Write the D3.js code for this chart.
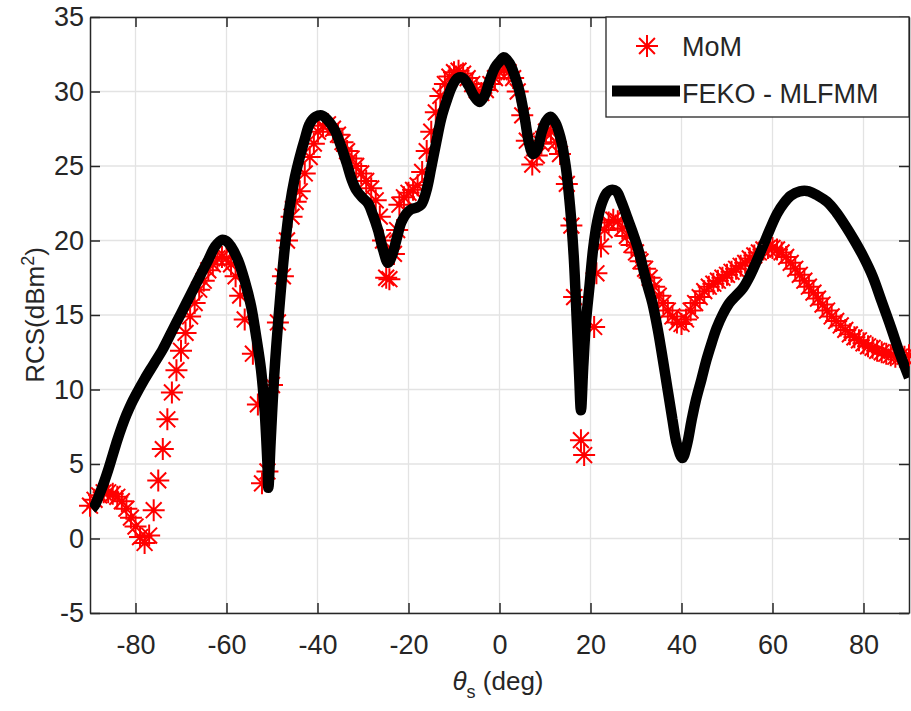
<!DOCTYPE html>
<html>
<head>
<meta charset="utf-8">
<script src="https://cdn.jsdelivr.net/npm/d3@7"></script>
<style>
  body { margin: 0; background: #fff; }
  text { font-family: "Liberation Sans", Arial, sans-serif; fill: #262626; }
</style>
</head>
<body>
<div id="chart"></div>
<script>
// MoM samples (red asterisks)
var momTheta = [-90,-89,-88,-87,-86,-85,-84,-83,-82,-81,-80,-79,-78,-77,-76,-75,-74,-73,-72,-71,
  -70,-69,-68,-67,-66,-65,-64,-63,-62,-61,-60,-59,-58,-57,-56,-54.2,-53.1,-52.2,-51,-50,
  -48.7,-47.6,-46.7,-45.7,-44.8,-43.9,-42.8,-41.7,-40.8,-39.9,-38.8,-37.7,-36.6,-35.5,-34.5,-33.5,-32.5,-31.5,-30.4,-29.3,
  -28.2,-27.2,-26.3,-25.6,-24.9,-24.2,-23.2,-22.5,-22,-21,-20,-19,-18,-17,-16,-15,-14,-13,-12,-11,
  -10,-9,-8,-7,-6,-5,-4,-3,-2,-1,0,1,2,3,4,5,6,7.2,8.2,9.2,
  10.2,11.3,12.4,13.3,14.8,15.8,16.4,17.9,18.6,20.8,21.3,22.3,23.1,24,25,26,27,28,29,30,
  31,32,33,34,35,36,37,38,39,40,41,42,43,44,45,46,47,48,49,50,
  51,52,53,54,55,56,57,58,59,60,61,62,63,64,65,66,67,68,69,70,
  71,72,73,74,75,76,77,78,79,80,81,82,83,84,85,86,87,88,89,90];
var momRcs = [2.2,2.6,2.9,3.1,3.1,3.0,2.8,2.5,2.0,1.4,0.8,0.1,-0.3,0.2,1.9,3.9,6.0,8.0,9.8,11.3,
  12.6,13.8,14.9,15.8,16.7,17.3,18.0,18.4,18.8,18.9,18.8,18.4,17.6,16.3,14.7,12.4,9.0,3.7,4.5,10.3,
  14.5,17.6,20.0,21.6,22.6,23.3,24.5,25.6,26.5,27.3,27.7,27.8,27.5,27.1,26.6,26.0,25.5,25.0,24.5,24.0,
  23.5,22.7,21.6,20.0,17.5,17.4,19.1,20.7,22.4,22.9,23.2,23.4,23.7,24.6,26.0,27.3,28.6,29.7,30.5,31.0,
  31.3,31.4,31.2,30.9,30.5,30.1,29.9,30.1,30.5,30.9,31.3,31.5,31.3,30.9,30.0,28.4,26.7,25.1,25.7,26.5,
  27.3,27.3,26.6,25.8,23.8,21.0,16.2,6.6,5.6,14.2,17.8,19.6,20.7,21.2,21.4,21.3,20.8,20.3,19.7,19.2,
  18.6,18.1,17.5,16.9,16.3,15.8,15.3,14.9,14.5,14.4,14.7,15.3,15.8,16.2,16.6,16.9,17.1,17.3,17.5,17.7,
  17.9,18.1,18.3,18.5,18.8,19.0,19.2,19.4,19.5,19.5,19.4,19.2,18.9,18.5,18.1,17.7,17.3,16.9,16.5,16.1,
  15.7,15.3,14.9,14.6,14.3,14.0,13.7,13.5,13.3,13.1,12.9,12.8,12.6,12.5,12.4,12.3,12.2,12.2,12.2,12.3];

// FEKO - MLFMM curve (black line)
var fekoTheta = [-89.6,-89,-88,-87,-86,-85,-84,-83,-82,-81,-80,-78,-76,-74,-72,-70,-68,-66,-64,-62.5,
  -61,-60,-59,-57.5,-56,-54.6,-53.5,-52.4,-51.6,-51,-50.8,-50.3,-49.5,-48.3,-47.2,-46.1,-45,-43.9,-42.8,-41.7,
  -40.4,-39.1,-37.8,-36.2,-34.9,-33.6,-32.5,-31.5,-30.2,-28.9,-27.8,-26.7,-25.6,-24.5,-23.6,-22.7,-21.6,-20.5,-19.4,-18.3,
  -17.2,-16.1,-15,-13.9,-12.8,-11.7,-10.5,-9.2,-8,-6.8,-5.6,-4.4,-3.3,-2.2,-1,0,1,2.2,3.3,4.4,
  5.5,6.6,7.4,8.3,9.2,10.2,11.2,12.3,13.4,14.5,15.5,16.3,17,17.5,17.9,18.4,19,19.8,20.6,21.5,
  22.5,23.6,24.6,25.7,26.8,28,29.2,30.5,31.5,32.5,33.6,34.8,35.9,37,38,39,40.2,41.2,42.2,43.1,
  44.4,45.5,46.6,47.7,49,50.5,52,53.5,55,56.5,58,59.5,61,62.5,64,66,68,70,72,74,
  76,78,80,82,84,86,88,90];
var fekoRcs = [2.0,2.2,2.9,3.7,4.6,5.6,6.6,7.5,8.3,9.0,9.6,10.7,11.7,12.7,13.9,15.1,16.3,17.5,18.7,19.6,
  20.05,19.95,19.6,18.7,17.3,15.6,13.6,11.3,8.5,5.0,3.4,6.5,11.0,15.8,19.5,22.3,24.2,25.6,26.8,27.85,
  28.3,28.4,28.1,27.4,26.4,25.2,24.1,23.4,22.9,22.5,21.7,20.7,19.4,18.5,19.0,20.0,21.2,21.8,22.1,22.2,
  22.4,23.3,24.9,26.6,28.2,29.3,30.3,30.9,30.9,30.4,29.7,29.3,29.7,30.7,31.6,32.0,32.3,31.9,31.1,30.0,
  28.3,26.4,25.8,26.1,27.2,28.0,28.3,27.9,26.9,25.1,22.3,19.0,14.5,11.0,8.6,11.5,14.5,17.0,19.5,21.3,
  22.5,23.2,23.4,23.3,22.6,21.6,20.6,19.4,18.2,17.0,15.8,14.0,12.0,9.9,8.0,6.3,5.4,6.3,7.9,9.2,
  10.7,12.0,13.1,14.1,15.0,15.8,16.3,16.8,17.6,18.6,19.7,20.8,21.8,22.5,23.0,23.3,23.3,23.0,22.6,21.9,
  21.0,20.0,18.9,17.6,15.9,14.2,12.4,10.8];

var xTicks = [-80, -60, -40, -20, 0, 20, 40, 60, 80];
var yTicks = [-5, 0, 5, 10, 15, 20, 25, 30, 35];

var width = 911;
var height = 711;
var pLeft = 90, pRight = 909, pTop = 17, pBottom = 613;

var x = d3.scaleLinear().domain([-90, 90]).range([pLeft, pRight]);
var y = d3.scaleLinear().domain([-5, 35]).range([pBottom, pTop]);

var svg = d3.select("#chart")
  .append("svg")
  .attr("width", width)
  .attr("height", height);

svg.append("defs").append("clipPath")
  .attr("id", "plotclip")
  .append("rect")
  .attr("x", pLeft).attr("y", pTop)
  .attr("width", pRight - pLeft).attr("height", pBottom - pTop);

// grid
svg.append("g")
  .selectAll("line")
  .data(xTicks)
  .enter().append("line")
  .attr("x1", d => x(d)).attr("x2", d => x(d))
  .attr("y1", pTop).attr("y2", pBottom)
  .attr("stroke", "#e3e3e3").attr("stroke-width", 1.3);
svg.append("g")
  .selectAll("line")
  .data(yTicks)
  .enter().append("line")
  .attr("x1", pLeft).attr("x2", pRight)
  .attr("y1", d => y(d)).attr("y2", d => y(d))
  .attr("stroke", "#e3e3e3").attr("stroke-width", 1.3);

// axes (ticks pointing inward, box all round)
var fontSize = 27;
var fmt = d => String(d);   // plain hyphen minus, like the original
var xAxis = svg.append("g")
  .attr("transform", "translate(0," + pBottom + ")")
  .call(d3.axisBottom(x).tickValues(xTicks).tickSizeInner(-10).tickSizeOuter(0).tickPadding(22).tickFormat(fmt));
var yAxis = svg.append("g")
  .attr("transform", "translate(" + pLeft + ",0)")
  .call(d3.axisLeft(y).tickValues(yTicks).tickSizeInner(-10).tickSizeOuter(0).tickPadding(22).tickFormat(fmt));
svg.append("g")
  .attr("transform", "translate(0," + pTop + ")")
  .call(d3.axisTop(x).tickValues(xTicks).tickSizeInner(-10).tickSizeOuter(0).tickFormat(""));
svg.append("g")
  .attr("transform", "translate(" + pRight + ",0)")
  .call(d3.axisRight(y).tickValues(yTicks).tickSizeInner(-10).tickSizeOuter(0).tickFormat(""));

svg.selectAll(".domain").attr("stroke", "#262626").attr("stroke-width", 1.5);
svg.selectAll(".tick line").attr("stroke", "#262626").attr("stroke-width", 1.5);
svg.selectAll(".tick text")
  .style("font-family", "'Liberation Sans', Arial, sans-serif")
  .style("font-size", fontSize + "px")
  .attr("fill", "#262626");
xAxis.selectAll(".tick text").attr("y", 22).attr("dy", "0.71em");
yAxis.selectAll(".tick text").attr("x", -6);

// asterisk marker
function asterisk(r) {
  var d = r * 0.72;
  return "M0," + (-r) + "L0," + r + "M" + (-r) + ",0L" + r + ",0" +
    "M" + (-d) + "," + (-d) + "L" + d + "," + d + "M" + (-d) + "," + d + "L" + d + "," + (-d);
}

// MoM markers
svg.append("g")
  .selectAll("path")
  .data(momTheta.map((t, i) => ({ t: t, v: momRcs[i] })))
  .enter().append("path")
  .attr("transform", d => "translate(" + x(d.t) + "," + y(d.v) + ")")
  .attr("d", asterisk(11))
  .attr("fill", "none")
  .attr("stroke", "#ff0000")
  .attr("stroke-width", 2);

// FEKO line
var line = d3.line()
  .x(d => x(d.t))
  .y(d => y(d.v))
  .curve(d3.curveCatmullRom.alpha(0.5));
svg.append("path")
  .datum(fekoTheta.map((t, i) => ({ t: t, v: fekoRcs[i] })))
  .attr("clip-path", "url(#plotclip)")
  .attr("d", line)
  .attr("fill", "none")
  .attr("stroke", "#000")
  .attr("stroke-width", 10.5)
  .attr("stroke-linejoin", "bevel");

// legend
var lg = svg.append("g");
lg.append("rect")
  .attr("x", 606).attr("y", 17)
  .attr("width", 303).attr("height", 100)
  .attr("fill", "#fff")
  .attr("stroke", "#262626").attr("stroke-width", 1.3);
lg.append("path")
  .attr("transform", "translate(647,46)")
  .attr("d", asterisk(11))
  .attr("fill", "none").attr("stroke", "#ff0000").attr("stroke-width", 2);
lg.append("text")
  .attr("x", 682).attr("y", 56)
  .style("font-size", fontSize + "px")
  .text("MoM");
lg.append("line")
  .attr("x1", 612).attr("x2", 680)
  .attr("y1", 91).attr("y2", 91)
  .attr("stroke", "#000").attr("stroke-width", 11);
lg.append("text")
  .attr("x", 682).attr("y", 103)
  .style("font-size", fontSize + "px")
  .text("FEKO - MLFMM");

// axis labels
var yl = svg.append("text")
  .attr("transform", "translate(44," + ((pTop + pBottom) / 2) + ") rotate(-90)")
  .attr("text-anchor", "middle")
  .style("font-size", "26px");
yl.append("tspan").text("RCS(dBm");
yl.append("tspan").attr("dy", -10).style("font-size", "18px").text("2");
yl.append("tspan").attr("dy", 10).text(")");

var xl = svg.append("text")
  .attr("x", 498).attr("y", 690)
  .attr("text-anchor", "middle")
  .style("font-size", "26px");
xl.append("tspan").style("font-style", "italic").text("θ");
xl.append("tspan").attr("dy", 8).style("font-size", "18px").text("s");
xl.append("tspan").attr("dy", -8).text(" (deg)");
</script>
</body>
</html>
